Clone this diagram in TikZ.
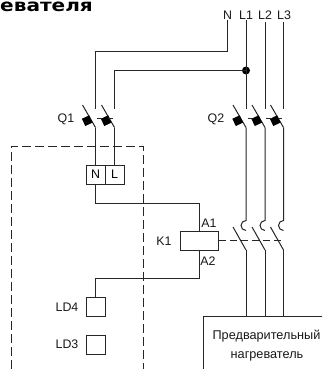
\documentclass[tikz,border=0pt]{standalone}
\usepackage{fontspec}
\setmainfont{Liberation Sans}
\newfontfamily\titlefont{DejaVu Sans Bold}
\tikzset{
  wire/.style={line width=1pt,black!85},
  box/.style={draw=black!85,line width=1pt,minimum width=19pt,minimum height=19pt,inner sep=0pt,anchor=center},
  lbl/.style={inner sep=0pt,font=\fontsize{12.4}{12}\selectfont,black!90},
  junction/.style={circle,fill=black,inner sep=0pt,minimum size=8pt},
  latch/.style={fill=black,minimum width=8pt,minimum height=8pt,inner sep=0pt,rotate=25}
}
\begin{document}
\begin{tikzpicture}[x=1pt,y=-1pt]
\useasboundingbox (0,0) rectangle (322,369);
\clip (0,0) rectangle (322,369);
% title
\node[inner sep=0pt,anchor=base west,xscale=1.18] (title) at (0,12) {\titlefont\fontsize{17}{17}\selectfont евателя};
% dashed enclosure
\coordinate (dTL) at (11,146);
\coordinate (dTR) at (143,146);
\coordinate (dBL) at (11,369);
\coordinate (dBR) at (143,369);
\draw[wire,dash pattern=on 9pt off 4pt] (dBL) -- (dTL) -- (dTR) -- (dBR);
% labels at the top
\node[lbl] (N) at (227.5,15.5) {N};
\node[lbl] (L1) at (246,15.5) {L1};
\node[lbl] (L2) at (265,15.5) {L2};
\node[lbl] (L3) at (284,15.5) {L3};
% poles of the breakers
\foreach \n/\x in {qa/95.5,qb/114.5,qc/246,qd/265,qe/283.5}{
  \coordinate (\n top) at (\x,108.5);
  \coordinate (\n pivot) at (\x,127.5);
  \coordinate (\n tip) at (\x-13,105);
  \draw[wire] (\n tip) -- (\n pivot);
  \node[latch] (\n latch) at (\x-8.3,120.7) {};
}
% linkage dashes of the breakers
\draw[wire] (96.5,118) -- (102,118) (108,118) -- (112.5,118);
\draw[wire] (247.5,118) -- (253,118) (266,118) -- (272,118) (279,118) -- (282,118);
% boxes
\node[box] (bN) at (95.5,174.5) {\fontsize{12.4}{12}\selectfont N};
\node[box] (bL) at (114.5,174.5) {\fontsize{12.4}{12}\selectfont L};
\node[box,minimum width=38pt] (K) at (199,240.5) {};
\node[box] (LD4) at (95.5,307) {};
\node[box] (LD3) at (95.5,344.5) {};
\node[draw=black!85,line width=1pt,minimum width=140pt,minimum height=80pt,anchor=north west,inner sep=0pt] (heat) at (202.7,315.5) {};
% texts
\node[lbl] (Q1) at (66,119) {Q1};
\node[lbl] (Q2) at (216,119) {Q2};
\node[lbl] (K1) at (164,241) {K1};
\node[lbl] (A1) at (209,223) {A1};
\node[lbl] (A2) at (208,261) {A2};
\node[lbl] (tLD4) at (67,307) {LD4};
\node[lbl] (tLD3) at (67,344.5) {LD3};
\node[lbl,font=\fontsize{12.7}{12}\selectfont] (h1) at (266.5,336) {Предварительный};
\node[lbl,font=\fontsize{12.7}{12}\selectfont] (h2) at (267,356) {нагреватель};
% supply wiring
\coordinate (c1) at (227.5,52);
\coordinate (c2) at (95.5,52);
\coordinate (c3) at (114.5,70.5);
\node[junction] (J) at (246,70.5) {};
\draw[wire] (N.south) -- (c1) -- (c2) -- (qatop);
\draw[wire] (J.center) -- (c3) -- (qbtop);
\draw[wire] (L1.south) -- (qctop);
\draw[wire] (265,22) -- (qdtop);
\draw[wire] (283.5,22) -- (qetop);
\draw[wire] (qapivot) -- (bN.north);
\draw[wire] (qbpivot) -- (bL.north);
% coil wiring
\coordinate (c4) at (95.5,203);
\coordinate (c5) at (199,203);
\coordinate (c6) at (199,278);
\coordinate (c7) at (95.5,278);
\draw[wire] (bN.south) -- (c4) -- (c5) -- (K.north);
\draw[wire] (K.south) -- (c6) -- (c7) -- (LD4.north);
% contactor
\foreach \n/\x in {ca/246,cb/265,cc/283.5}{
  \coordinate (\n arc) at (\x,220.5);
  \coordinate (\n tip) at (\x-13,227);
  \coordinate (\n piv) at (\x,250);
  \draw[wire] (\x,127.5) -- (\n arc) arc[start angle=90,end angle=270,radius=5pt];
  \draw[wire] (\n tip) -- (\n piv);
  \draw[wire] (\n piv) -- (\x,315.5);
}
\draw[wire,dash pattern=on 7pt off 4pt] (K.east) -- (284,240.5);
\end{tikzpicture}
\end{document}
